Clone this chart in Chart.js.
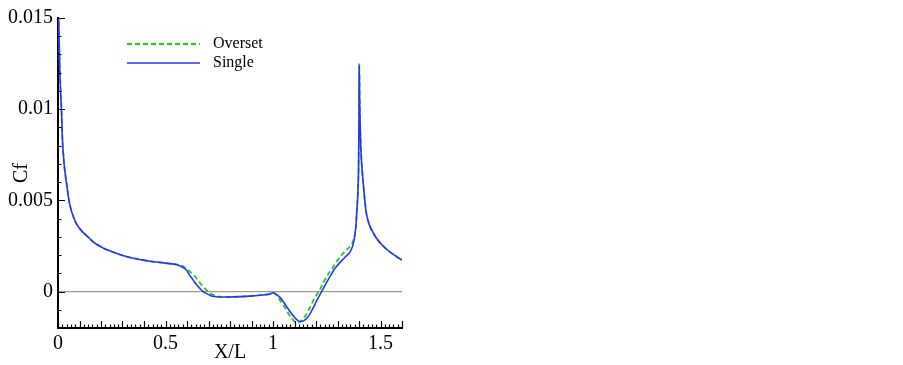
<!DOCTYPE html>
<html>
<head>
<meta charset="utf-8">
<script src="https://cdn.jsdelivr.net/npm/chart.js@4.4.1/dist/chart.umd.min.js"></script>
<style>
  html, body { margin: 0; padding: 0; background: #fff; }
  canvas { display: block; }
</style>
</head>
<body>
<canvas id="cf" width="903" height="365"></canvas>
<script>
// skin friction along the body, single grid vs overset grid
const SINGLE_X = [0.000, 0.003, 0.008, 0.012, 0.016, 0.020, 0.025, 0.031, 0.039, 0.051, 0.060, 0.070, 0.080, 0.092, 0.106, 0.120, 0.137, 0.168, 0.200, 0.222, 0.250, 0.287, 0.330, 0.380, 0.426, 0.473, 0.520, 0.557, 0.575, 0.597, 0.612, 0.628, 0.644, 0.659, 0.675, 0.690, 0.706, 0.721, 0.752, 0.790, 0.850, 0.892, 0.940, 0.985, 1.000, 1.010, 1.023, 1.035, 1.047, 1.062, 1.078, 1.094, 1.109, 1.124, 1.135, 1.147, 1.160, 1.171, 1.187, 1.202, 1.217, 1.233, 1.248, 1.264, 1.285, 1.310, 1.335, 1.360, 1.375, 1.385, 1.390, 1.395, 1.398, 1.400, 1.401, 1.403, 1.406, 1.410, 1.415, 1.420, 1.427, 1.434, 1.450, 1.465, 1.480, 1.495, 1.512, 1.535, 1.558, 1.580, 1.600];
const SINGLE_Y = [0.0165, 0.0150, 0.0123, 0.0110, 0.0100, 0.0085, 0.0075, 0.0067, 0.0060, 0.0050, 0.00452, 0.00415, 0.00385, 0.00360, 0.00338, 0.00320, 0.00302, 0.00268, 0.00245, 0.00232, 0.00219, 0.00203, 0.00188, 0.00176, 0.00166, 0.00160, 0.00153, 0.00146, 0.00136, 0.00118, 0.00090, 0.00064, 0.00038, 0.00018, 0.00000, -0.00010, -0.00020, -0.00026, -0.00030, -0.00030, -0.00028, -0.00025, -0.00020, -0.00014, -0.00007, -0.00010, -0.00022, -0.00035, -0.00053, -0.00080, -0.00108, -0.00133, -0.00153, -0.00164, -0.00164, -0.00157, -0.00142, -0.00125, -0.00090, -0.00053, -0.00020, 0.00014, 0.00048, 0.00080, 0.00122, 0.00157, 0.00188, 0.00220, 0.00270, 0.00350, 0.00440, 0.00550, 0.00680, 0.00950, 0.01240, 0.01050, 0.00880, 0.00750, 0.00660, 0.00590, 0.00500, 0.00430, 0.00360, 0.00325, 0.00295, 0.00272, 0.00250, 0.00225, 0.00205, 0.00187, 0.00172];

const OVERSET_X = [0.000, 0.003, 0.008, 0.012, 0.016, 0.020, 0.025, 0.031, 0.039, 0.051, 0.060, 0.070, 0.080, 0.092, 0.106, 0.120, 0.137, 0.168, 0.200, 0.222, 0.250, 0.287, 0.330, 0.380, 0.426, 0.473, 0.520, 0.557, 0.575, 0.597, 0.617, 0.636, 0.652, 0.667, 0.683, 0.698, 0.714, 0.729, 0.752, 0.790, 0.850, 0.892, 0.940, 0.985, 1.000, 1.012, 1.025, 1.040, 1.054, 1.070, 1.086, 1.100, 1.112, 1.125, 1.140, 1.155, 1.170, 1.186, 1.202, 1.217, 1.233, 1.248, 1.264, 1.280, 1.295, 1.318, 1.341, 1.360, 1.375, 1.385, 1.390, 1.395, 1.398, 1.400, 1.401, 1.403, 1.406, 1.410, 1.415, 1.420, 1.427, 1.434, 1.450, 1.465, 1.480, 1.495, 1.512, 1.535, 1.558, 1.580, 1.600];
const OVERSET_Y = [0.0165, 0.0150, 0.0123, 0.0110, 0.0100, 0.0085, 0.0075, 0.0067, 0.0060, 0.0050, 0.00452, 0.00415, 0.00385, 0.00360, 0.00338, 0.00320, 0.00302, 0.00268, 0.00245, 0.00232, 0.00219, 0.00203, 0.00188, 0.00176, 0.00166, 0.00160, 0.00153, 0.00147, 0.00142, 0.00126, 0.00105, 0.00084, 0.00060, 0.00038, 0.00016, 0.00000, -0.00014, -0.00022, -0.00028, -0.00030, -0.00028, -0.00025, -0.00020, -0.00014, -0.00008, -0.00015, -0.00035, -0.00060, -0.00085, -0.00118, -0.00146, -0.00165, -0.00171, -0.00166, -0.00150, -0.00125, -0.00092, -0.00053, -0.00020, 0.00008, 0.00045, 0.00078, 0.00108, 0.00135, 0.00163, 0.00198, 0.00228, 0.00250, 0.00285, 0.00355, 0.00440, 0.00550, 0.00680, 0.00950, 0.01250, 0.01050, 0.00880, 0.00750, 0.00660, 0.00590, 0.00500, 0.00430, 0.00360, 0.00325, 0.00295, 0.00272, 0.00250, 0.00225, 0.00205, 0.00187, 0.00172];

const X_LABELS = [0, 0.5, 1, 1.5];
const X_TEXT = ["0", "0.5", "1", "1.5"];
const Y_LABELS = [0, 0.005, 0.01, 0.015];
const Y_TEXT = ["0", "0.005", "0.01", "0.015"];
const X_MIN = 0, X_MAX = 1.6, Y_MIN = -0.002, Y_MAX = 0.015;

const BLUE = "#3030ff";
const GREEN = "#14d414";
const FONT = "'Liberation Serif', 'Times New Roman', serif";

const pts = (xs, ys) => xs.map((x, i) => ({ x, y: ys[i] }));

// tecplot style: ticks point into the plot, long every 0.1 / 0.005, short between
const innerTicks = {
  id: "innerTicks",
  afterDatasetsDraw(chart) {
    const { ctx, scales: { x, y }, chartArea: a } = chart;
    ctx.save();
    ctx.strokeStyle = "#000";
    ctx.lineWidth = 1.2;
    ctx.beginPath();
    for (let i = 0; i <= 80; i++) {
      const px = Math.round(x.getPixelForValue(i * 0.02)) + 0.5;
      const len = i % 5 === 0 ? 7 : 3.5;
      ctx.moveTo(px, a.bottom);
      ctx.lineTo(px, a.bottom - len);
    }
    for (let i = -2; i <= 15; i++) {
      const py = Math.round(y.getPixelForValue(i * 0.001)) + 0.5;
      const len = i % 5 === 0 ? 7 : 3.5;
      ctx.moveTo(a.left, py);
      ctx.lineTo(a.left + len, py);
    }
    ctx.stroke();

    // legend
    ctx.font = "16px " + FONT;
    ctx.textBaseline = "middle";
    ctx.fillStyle = "#000";
    chart.data.datasets.forEach((ds, i) => {
      const ly = a.top + 26 + i * 19;
      const lx = a.left + 69;
      ctx.strokeStyle = ds.borderColor;
      ctx.lineWidth = ds.borderWidth;
      ctx.setLineDash(ds.borderDash || []);
      ctx.beginPath();
      ctx.moveTo(lx, ly);
      ctx.lineTo(lx + 73, ly);
      ctx.stroke();
      ctx.setLineDash([]);
      ctx.fillText(ds.label, lx + 86, ly);
    });
    ctx.restore();
  }
};

new Chart(document.getElementById("cf"), {
  type: "line",
  data: {
    datasets: [
      {
        label: "Overset", data: pts(OVERSET_X, OVERSET_Y),
        borderColor: GREEN, borderWidth: 1.8, borderDash: [5, 3],
        pointRadius: 0, cubicInterpolationMode: "monotone", fill: false, order: 2,
      },
      {
        label: "Single", data: pts(SINGLE_X, SINGLE_Y),
        borderColor: BLUE, borderWidth: 1.6,
        pointRadius: 0, cubicInterpolationMode: "monotone", fill: false, order: 1,
      },
    ],
  },
  options: {
    responsive: false,
    animation: false,
    events: [],
    layout: { padding: { top: 18, right: 501, left: 0, bottom: 0 } },
    plugins: { legend: { display: false }, tooltip: { enabled: false } },
    scales: {
      x: {
        type: "linear", min: X_MIN, max: X_MAX,
        afterBuildTicks: (s) => { s.ticks = X_LABELS.map((v) => ({ value: v })); },
        afterFit: (s) => { s.height = 37; },
        ticks: {
          padding: 4, color: "#000", maxRotation: 0,
          font: { family: FONT, size: 20 },
          callback: (v) => X_TEXT[X_LABELS.indexOf(v)] ?? "",
        },
        grid: { drawOnChartArea: false, drawTicks: false },
        border: { color: "#000", width: 2 },
        title: { display: true, text: "X/L", color: "#000", font: { family: FONT, size: 20 }, padding: { top: 0, bottom: 0 } },
      },
      y: {
        type: "linear", min: Y_MIN, max: Y_MAX,
        afterBuildTicks: (s) => { s.ticks = Y_LABELS.map((v) => ({ value: v })); },
        afterFit: (s) => { s.width = 58; },
        ticks: {
          padding: 5, color: "#000",
          font: { family: FONT, size: 20 },
          callback: (v) => Y_TEXT[Y_LABELS.indexOf(v)] ?? "",
        },
        grid: {
          drawTicks: false, lineWidth: 1.2,
          color: (c) => (c.tick && c.tick.value === 0 ? "#9a9a9a" : "rgba(0,0,0,0)"),
        },
        border: { color: "#000", width: 2 },
        title: { display: true, text: "Cf", color: "#000", font: { family: FONT, size: 20 }, padding: { top: 10, bottom: 0 } },
      },
    },
  },
  plugins: [innerTicks],
});
</script>
</body>
</html>
